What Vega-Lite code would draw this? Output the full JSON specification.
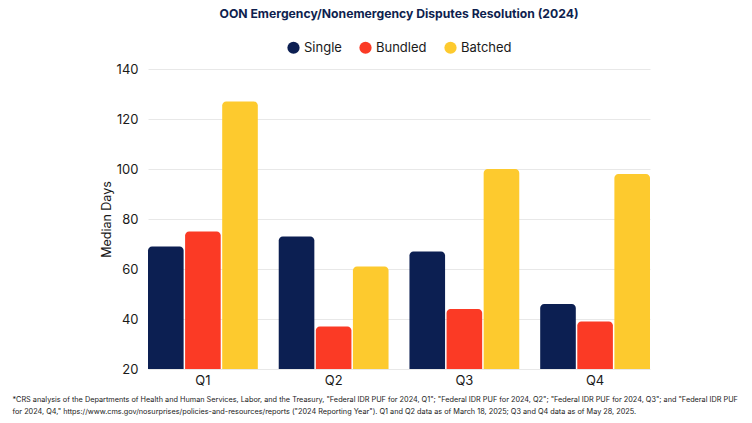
{
  "$schema": "https://vega.github.io/schema/vega-lite/v6.json",
  "autosize": "none",
  "width": 502,
  "height": 300,
  "padding": {"left": 148, "top": 69, "right": 102, "bottom": 54},
  "background": "white",
  "title": {
    "text": "OON Emergency/Nonemergency Disputes Resolution (2024)",
    "font": "Inter",
    "fontSize": 12.2,
    "fontWeight": "bold",
    "color": "#0f1f4f",
    "anchor": "middle",
    "offset": 21
  },
  "data": {
    "values": [
      {"quarter": "Q1", "type": "Single", "days": 69},
      {"quarter": "Q1", "type": "Bundled", "days": 75},
      {"quarter": "Q1", "type": "Batched", "days": 127},
      {"quarter": "Q2", "type": "Single", "days": 73},
      {"quarter": "Q2", "type": "Bundled", "days": 37},
      {"quarter": "Q2", "type": "Batched", "days": 61},
      {"quarter": "Q3", "type": "Single", "days": 67},
      {"quarter": "Q3", "type": "Bundled", "days": 44},
      {"quarter": "Q3", "type": "Batched", "days": 100},
      {"quarter": "Q4", "type": "Single", "days": 46},
      {"quarter": "Q4", "type": "Bundled", "days": 39},
      {"quarter": "Q4", "type": "Batched", "days": 98}
    ]
  },
  "mark": {"type": "bar", "cornerRadiusTopLeft": 4, "cornerRadiusTopRight": 4},
  "encoding": {
    "x": {
      "field": "quarter",
      "type": "nominal",
      "scale": {"paddingInner": 0.16, "paddingOuter": 0},
      "axis": {
        "labelAngle": 0,
        "labelFont": "Inter",
        "labelFontSize": 13,
        "labelColor": "#1a1a1a",
        "labelPadding": 5,
        "ticks": false,
        "domain": false,
        "title": [
          "*CRS analysis of the Departments of Health and Human Services, Labor, and the Treasury, \"Federal IDR PUF for 2024, Q1\"; \"Federal IDR PUF for 2024, Q2\"; \"Federal IDR PUF for 2024, Q3\"; and \"Federal IDR PUF",
          "for 2024, Q4,\" https://www.cms.gov/nosurprises/policies-and-resources/reports (\"2024 Reporting Year\"). Q1 and Q2 data as of March 18, 2025; Q3 and Q4 data as of May 28, 2025."
        ],
        "titleFont": "Inter",
        "titleFontSize": 7.3,
        "titleFontWeight": "normal",
        "titleColor": "#1a1a1a",
        "titleAlign": "left",
        "titleBaseline": "top",
        "titleAnchor": "start",
        "titleX": -136,
        "titleY": 26,
        "titleLineHeight": 12
      }
    },
    "xOffset": {
      "field": "type",
      "type": "nominal",
      "sort": ["Single", "Bundled", "Batched"],
      "scale": {"paddingInner": 0.04}
    },
    "y": {
      "field": "days",
      "type": "quantitative",
      "scale": {"domain": [20, 140], "zero": false, "nice": false},
      "axis": {
        "values": [20, 40, 60, 80, 100, 120, 140],
        "title": "Median Days",
        "titleFont": "Inter",
        "titleFontSize": 12.5,
        "titleFontWeight": "normal",
        "titleColor": "#1a1a1a",
        "titlePadding": 3,
        "labelFont": "Inter",
        "labelFontSize": 13,
        "labelColor": "#1a1a1a",
        "labelPadding": 10,
        "ticks": false,
        "domain": false,
        "gridColor": "#e8e8e8"
      }
    },
    "y2": {"datum": 20},
    "color": {
      "field": "type",
      "type": "nominal",
      "sort": ["Single", "Bundled", "Batched"],
      "scale": {"domain": ["Single", "Bundled", "Batched"], "range": ["#0c1f52", "#fb3a25", "#fdca2e"]},
      "legend": {
        "orient": "none",
        "legendX": 139,
        "legendY": -28,
        "direction": "horizontal",
        "title": null,
        "symbolType": "circle",
        "symbolSize": 150,
        "symbolStrokeWidth": 0,
        "labelFont": "Inter",
        "labelFontSize": 13,
        "labelColor": "#1a1a1a",
        "columnPadding": 17
      }
    }
  },
  "config": {
    "view": {"stroke": null}
  }
}
